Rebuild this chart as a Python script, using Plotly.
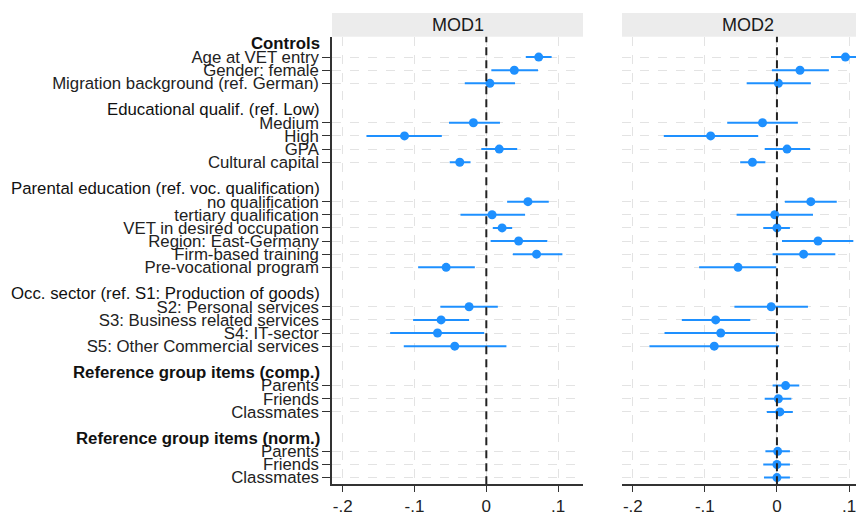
import plotly.graph_objects as go

# ---- data ----
items = ["Age at VET entry", "Gender: female", "Migration background (ref. German)",
         "Medium", "High", "GPA", "Cultural capital",
         "no qualification", "tertiary qualification", "VET in desired occupation",
         "Region: East-Germany", "Firm-based training", "Pre-vocational program",
         "S2: Personal services", "S3: Business related services", "S4: IT-sector",
         "S5: Other Commercial services",
         "Parents", "Friends", "Classmates",
         "Parents", "Friends", "Classmates"]
item_rows = [0, 1, 2, 5, 6, 7, 8, 11, 12, 13, 14, 15, 16, 19, 20, 21, 22, 25, 26, 27, 30, 31, 32]

headers = ["<b>Controls</b>", "Educational qualif. (ref. Low)",
           "Parental education (ref. voc. qualification)",
           "Occ. sector (ref. S1: Production of goods)",
           "<b>Reference group items (comp.)</b>", "<b>Reference group items (norm.)</b>"]
header_rows = [-1, 4, 10, 18, 24, 29]

# MOD1 (no reference group items)
mod1_rows = item_rows[:17]
mod1_est = [0.073, 0.039, 0.005, -0.018, -0.114, 0.018, -0.037,
            0.058, 0.008, 0.022, 0.045, 0.070, -0.056,
            -0.024, -0.063, -0.068, -0.044]
mod1_lo = [0.055, 0.007, -0.030, -0.052, -0.167, -0.007, -0.051,
           0.029, -0.036, 0.009, 0.006, 0.037, -0.095,
           -0.064, -0.102, -0.134, -0.115]
mod1_hi = [0.091, 0.072, 0.040, 0.019, -0.062, 0.043, -0.022,
           0.087, 0.054, 0.036, 0.085, 0.106, -0.016,
           0.016, -0.024, -0.003, 0.028]

mod2_rows = item_rows
mod2_est = [0.095, 0.032, 0.002, -0.020, -0.092, 0.014, -0.034,
            0.047, -0.003, 0.000, 0.057, 0.037, -0.054,
            -0.008, -0.085, -0.078, -0.087,
            0.012, 0.002, 0.004, 0.001, 0.000, 0.000]
mod2_lo = [0.075, -0.007, -0.042, -0.069, -0.157, -0.017, -0.051,
           0.011, -0.056, -0.019, 0.007, -0.006, -0.108,
           -0.059, -0.132, -0.156, -0.177,
           -0.006, -0.017, -0.014, -0.016, -0.019, -0.018]
mod2_hi = [0.117, 0.072, 0.047, 0.029, -0.026, 0.046, -0.016,
           0.083, 0.050, 0.018, 0.106, 0.081, -0.001,
           0.043, -0.037, -0.002, 0.003,
           0.031, 0.020, 0.022, 0.018, 0.018, 0.018]

panel_titles = ["MOD1", "MOD2"]
xtick_vals = [-0.2, -0.1, 0, 0.1]
xtick_text = ["-.2", "-.1", "0", ".1"]

# ---- styling ----
BLUE = "rgb(30,144,255)"
FONT = "Liberation Sans, Arial, sans-serif"
OFF = 8  # page body margin
W, H = 864 - OFF, 516 - OFF

def px(x):
    return (x - OFF) / W

def py(y):
    return (H - (y - OFF)) / H

x1_dom = [px(332), px(583)]
x2_dom = [px(622), 1.0]
x2_end_full = px(873)
y_dom = [py(487), py(37)]
strip_top = py(13)

fig = go.Figure()

def add_panel(rows, est, lo, hi, xa, ya):
    fig.add_trace(go.Scatter(
        x=est, y=rows, mode="markers", xaxis=xa, yaxis=ya,
        marker=dict(color=BLUE, size=9, line=dict(width=0)),
        error_x=dict(type="data", symmetric=False,
                     array=[h - e for h, e in zip(hi, est)],
                     arrayminus=[e - l for e, l in zip(est, lo)],
                     color=BLUE, thickness=2, width=0),
        showlegend=False, hoverinfo="skip"))

add_panel(mod1_rows, mod1_est, mod1_lo, mod1_hi, "x", "y")
add_panel(mod2_rows, mod2_est, mod2_lo, mod2_hi, "x2", "y2")

yrange = [32.5, -1.54]
common_x = dict(tickvals=xtick_vals, ticktext=xtick_text, showgrid=True,
                gridcolor="#e3e3e3", griddash="dash", gridwidth=1,
                zeroline=False, showline=True, linecolor="#333", linewidth=1.5,
                ticks="outside", ticklen=6, tickcolor="#333", tickwidth=1.2,
                tickfont=dict(family=FONT, size=17, color="#222"))

fig.update_layout(
    width=W, height=H, margin=dict(l=0, r=0, t=0, b=0),
    paper_bgcolor="white", plot_bgcolor="white",
    xaxis=dict(domain=x1_dom, range=[-0.215, 0.1347], anchor="y", **common_x),
    xaxis2=dict(domain=x2_dom, range=[-0.215, 0.1208], anchor="y2", **common_x),
    yaxis=dict(domain=y_dom, range=yrange, anchor="x", tickvals=item_rows, ticktext=items,
               showgrid=True, gridcolor="#e3e3e3", griddash="dash", gridwidth=1,
               zeroline=False, showline=True, linecolor="#333", linewidth=1.5,
               ticks="outside", ticklen=8, tickcolor="#333", tickwidth=1.2,
               tickfont=dict(family=FONT, size=16.8, color="#222"), automargin=False),
    yaxis2=dict(domain=y_dom, range=yrange, anchor="x2", tickvals=item_rows,
                showticklabels=False, showgrid=True, gridcolor="#e3e3e3", griddash="dash",
                gridwidth=1, zeroline=False, showline=False, ticks=""),
)

# header labels
for txt, r in zip(headers, header_rows):
    fig.add_annotation(text=txt, x=x1_dom[0], xref="paper", y=r, yref="y",
                       xanchor="right", yanchor="middle", xshift=-10, showarrow=False,
                       font=dict(family=FONT, size=16.8, color="#111"))

# strips and zero lines
for dom_start, dom_end, title, xr in [(x1_dom[0], x1_dom[1], panel_titles[0], "x"),
                                      (x2_dom[0], x2_end_full, panel_titles[1], "x2")]:
    fig.add_shape(type="rect", xref="paper", yref="paper", x0=dom_start, x1=dom_end,
                  y0=y_dom[1], y1=strip_top, fillcolor="#ececec", line=dict(width=0), layer="below")
    fig.add_annotation(text=title, x=(dom_start + dom_end) / 2, xref="paper",
                       y=(y_dom[1] + strip_top) / 2, yref="paper",
                       xanchor="center", yanchor="middle", showarrow=False,
                       font=dict(family=FONT, size=18, color="#1a1a1a"))
    fig.add_shape(type="line", xref=xr, yref=xr.replace("x", "y") + " domain", x0=0, x1=0, y0=0, y1=1,
                  line=dict(color="#222", width=2, dash="8px,5px"))

fig.write_html("out.html")
